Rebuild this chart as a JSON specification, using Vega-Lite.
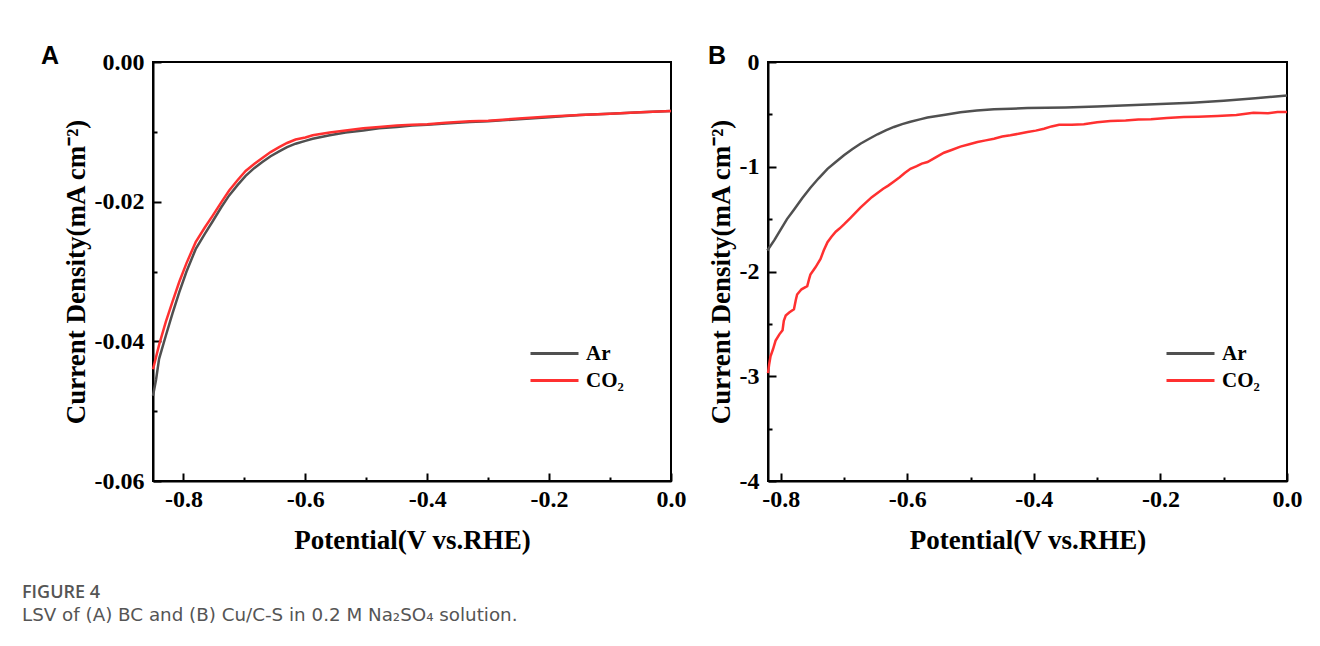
{
  "$schema": "https://vega.github.io/schema/vega-lite/v6.json",
  "background": "white",
  "padding": {"left": 22, "top": 43, "right": 5, "bottom": 5},
  "config": {
    "view": {"stroke": "black", "strokeWidth": 2},
    "axis": {
      "labelFont": "Liberation Serif", "labelFontWeight": "bold", "labelFontSize": 24, "labelColor": "black",
      "titleFont": "Liberation Serif", "titleFontWeight": "bold", "titleFontSize": 27, "titleColor": "black",
      "domainColor": "black", "domainWidth": 2, "tickColor": "black", "tickWidth": 2,
      "grid": false, "labelFlush": false, "labelOverlap": false
    },
    "legend": {
      "labelFont": "Liberation Serif", "labelFontWeight": "bold", "labelFontSize": 21, "labelColor": "black",
      "symbolType": "stroke", "symbolStrokeWidth": 3, "symbolSize": 2304, "rowPadding": 0, "clipHeight": 27, "labelOffset": 6
    },
    "title": {"font": "Liberation Sans", "fontWeight": "bold", "fontSize": 25, "color": "black"}
  },
  "title": {
    "text": "FIGURE 4",
    "subtitle": "LSV of (A) BC and (B) Cu/C-S in 0.2 M Na₂SO₄ solution.",
    "orient": "bottom", "anchor": "start", "frame": "bounds", "offset": 30, "dx": -18,
    "font": "Open Sans", "fontWeight": 600, "fontSize": 18, "color": "#555555",
    "subtitleFont": "DejaVu Sans", "subtitleFontWeight": "normal", "subtitleFontSize": 18.3, "subtitleColor": "#555555", "subtitlePadding": 5
  },
  "datasets": {
    "A": [
      {"gas": "Ar", "V": -0.850, "I": -0.0478}, {"gas": "Ar", "V": -0.845, "I": -0.0455}, {"gas": "Ar", "V": -0.840, "I": -0.0425},
      {"gas": "Ar", "V": -0.829, "I": -0.0392}, {"gas": "Ar", "V": -0.818, "I": -0.0360}, {"gas": "Ar", "V": -0.807, "I": -0.0330},
      {"gas": "Ar", "V": -0.795, "I": -0.0300}, {"gas": "Ar", "V": -0.780, "I": -0.0268}, {"gas": "Ar", "V": -0.765, "I": -0.0246},
      {"gas": "Ar", "V": -0.752, "I": -0.0228}, {"gas": "Ar", "V": -0.738, "I": -0.0208}, {"gas": "Ar", "V": -0.725, "I": -0.0191},
      {"gas": "Ar", "V": -0.711, "I": -0.0176}, {"gas": "Ar", "V": -0.698, "I": -0.0163}, {"gas": "Ar", "V": -0.684, "I": -0.0152},
      {"gas": "Ar", "V": -0.670, "I": -0.0143}, {"gas": "Ar", "V": -0.657, "I": -0.0135}, {"gas": "Ar", "V": -0.643, "I": -0.0128},
      {"gas": "Ar", "V": -0.630, "I": -0.0122}, {"gas": "Ar", "V": -0.616, "I": -0.0117}, {"gas": "Ar", "V": -0.600, "I": -0.0113},
      {"gas": "Ar", "V": -0.588, "I": -0.0110}, {"gas": "Ar", "V": -0.560, "I": -0.0105}, {"gas": "Ar", "V": -0.534, "I": -0.0101},
      {"gas": "Ar", "V": -0.505, "I": -0.0098}, {"gas": "Ar", "V": -0.479, "I": -0.0095}, {"gas": "Ar", "V": -0.450, "I": -0.0093},
      {"gas": "Ar", "V": -0.425, "I": -0.0091}, {"gas": "Ar", "V": -0.400, "I": -0.0090}, {"gas": "Ar", "V": -0.370, "I": -0.0088},
      {"gas": "Ar", "V": -0.330, "I": -0.0086}, {"gas": "Ar", "V": -0.300, "I": -0.0085}, {"gas": "Ar", "V": -0.250, "I": -0.0082},
      {"gas": "Ar", "V": -0.200, "I": -0.0079}, {"gas": "Ar", "V": -0.150, "I": -0.0076}, {"gas": "Ar", "V": -0.100, "I": -0.0074},
      {"gas": "Ar", "V": -0.050, "I": -0.0072}, {"gas": "Ar", "V": 0.000, "I": -0.0070},
      {"gas": "CO₂", "V": -0.850, "I": -0.0440}, {"gas": "CO₂", "V": -0.840, "I": -0.0405}, {"gas": "CO₂", "V": -0.829, "I": -0.0372},
      {"gas": "CO₂", "V": -0.818, "I": -0.0343}, {"gas": "CO₂", "V": -0.807, "I": -0.0315}, {"gas": "CO₂", "V": -0.795, "I": -0.0288},
      {"gas": "CO₂", "V": -0.780, "I": -0.0258}, {"gas": "CO₂", "V": -0.765, "I": -0.0237}, {"gas": "CO₂", "V": -0.752, "I": -0.0220},
      {"gas": "CO₂", "V": -0.738, "I": -0.0201}, {"gas": "CO₂", "V": -0.725, "I": -0.0184}, {"gas": "CO₂", "V": -0.711, "I": -0.0169},
      {"gas": "CO₂", "V": -0.698, "I": -0.0156}, {"gas": "CO₂", "V": -0.684, "I": -0.0146}, {"gas": "CO₂", "V": -0.670, "I": -0.0137},
      {"gas": "CO₂", "V": -0.657, "I": -0.0129}, {"gas": "CO₂", "V": -0.643, "I": -0.0122}, {"gas": "CO₂", "V": -0.630, "I": -0.0116},
      {"gas": "CO₂", "V": -0.616, "I": -0.0111}, {"gas": "CO₂", "V": -0.600, "I": -0.0108}, {"gas": "CO₂", "V": -0.588, "I": -0.0105},
      {"gas": "CO₂", "V": -0.560, "I": -0.0101}, {"gas": "CO₂", "V": -0.534, "I": -0.0098}, {"gas": "CO₂", "V": -0.505, "I": -0.0095},
      {"gas": "CO₂", "V": -0.479, "I": -0.0093}, {"gas": "CO₂", "V": -0.450, "I": -0.0091}, {"gas": "CO₂", "V": -0.425, "I": -0.0090},
      {"gas": "CO₂", "V": -0.400, "I": -0.0089}, {"gas": "CO₂", "V": -0.370, "I": -0.0087}, {"gas": "CO₂", "V": -0.330, "I": -0.0085},
      {"gas": "CO₂", "V": -0.300, "I": -0.0084}, {"gas": "CO₂", "V": -0.250, "I": -0.0081}, {"gas": "CO₂", "V": -0.200, "I": -0.0078},
      {"gas": "CO₂", "V": -0.150, "I": -0.0076}, {"gas": "CO₂", "V": -0.100, "I": -0.0074}, {"gas": "CO₂", "V": -0.050, "I": -0.0072},
      {"gas": "CO₂", "V": 0.000, "I": -0.0070}
    ],
    "B": [
      {"gas": "Ar", "V": -0.821, "I": -1.80}, {"gas": "Ar", "V": -0.810, "I": -1.70}, {"gas": "Ar", "V": -0.800, "I": -1.60},
      {"gas": "Ar", "V": -0.790, "I": -1.50}, {"gas": "Ar", "V": -0.779, "I": -1.41}, {"gas": "Ar", "V": -0.766, "I": -1.30},
      {"gas": "Ar", "V": -0.753, "I": -1.20}, {"gas": "Ar", "V": -0.740, "I": -1.11}, {"gas": "Ar", "V": -0.726, "I": -1.02},
      {"gas": "Ar", "V": -0.713, "I": -0.955}, {"gas": "Ar", "V": -0.700, "I": -0.89}, {"gas": "Ar", "V": -0.687, "I": -0.833},
      {"gas": "Ar", "V": -0.674, "I": -0.78}, {"gas": "Ar", "V": -0.660, "I": -0.733}, {"gas": "Ar", "V": -0.647, "I": -0.69},
      {"gas": "Ar", "V": -0.634, "I": -0.653}, {"gas": "Ar", "V": -0.621, "I": -0.62}, {"gas": "Ar", "V": -0.608, "I": -0.593},
      {"gas": "Ar", "V": -0.595, "I": -0.57}, {"gas": "Ar", "V": -0.580, "I": -0.548}, {"gas": "Ar", "V": -0.568, "I": -0.53},
      {"gas": "Ar", "V": -0.540, "I": -0.503}, {"gas": "Ar", "V": -0.516, "I": -0.48}, {"gas": "Ar", "V": -0.490, "I": -0.463},
      {"gas": "Ar", "V": -0.463, "I": -0.452}, {"gas": "Ar", "V": -0.436, "I": -0.446}, {"gas": "Ar", "V": -0.410, "I": -0.44},
      {"gas": "Ar", "V": -0.380, "I": -0.437}, {"gas": "Ar", "V": -0.350, "I": -0.434}, {"gas": "Ar", "V": -0.300, "I": -0.425},
      {"gas": "Ar", "V": -0.250, "I": -0.413}, {"gas": "Ar", "V": -0.200, "I": -0.402}, {"gas": "Ar", "V": -0.150, "I": -0.388},
      {"gas": "Ar", "V": -0.100, "I": -0.370}, {"gas": "Ar", "V": -0.050, "I": -0.347}, {"gas": "Ar", "V": 0.000, "I": -0.320},
      {"gas": "CO₂", "V": -0.820, "I": -2.97}, {"gas": "CO₂", "V": -0.818, "I": -2.88}, {"gas": "CO₂", "V": -0.816, "I": -2.81},
      {"gas": "CO₂", "V": -0.812, "I": -2.74}, {"gas": "CO₂", "V": -0.808, "I": -2.66}, {"gas": "CO₂", "V": -0.802, "I": -2.60},
      {"gas": "CO₂", "V": -0.797, "I": -2.56}, {"gas": "CO₂", "V": -0.795, "I": -2.47}, {"gas": "CO₂", "V": -0.792, "I": -2.42},
      {"gas": "CO₂", "V": -0.786, "I": -2.39}, {"gas": "CO₂", "V": -0.779, "I": -2.36}, {"gas": "CO₂", "V": -0.776, "I": -2.27},
      {"gas": "CO₂", "V": -0.774, "I": -2.22}, {"gas": "CO₂", "V": -0.767, "I": -2.17}, {"gas": "CO₂", "V": -0.758, "I": -2.14},
      {"gas": "CO₂", "V": -0.755, "I": -2.07}, {"gas": "CO₂", "V": -0.753, "I": -2.03}, {"gas": "CO₂", "V": -0.745, "I": -1.96},
      {"gas": "CO₂", "V": -0.737, "I": -1.88}, {"gas": "CO₂", "V": -0.732, "I": -1.80}, {"gas": "CO₂", "V": -0.726, "I": -1.72},
      {"gas": "CO₂", "V": -0.720, "I": -1.67}, {"gas": "CO₂", "V": -0.713, "I": -1.62}, {"gas": "CO₂", "V": -0.707, "I": -1.59},
      {"gas": "CO₂", "V": -0.700, "I": -1.55}, {"gas": "CO₂", "V": -0.690, "I": -1.49}, {"gas": "CO₂", "V": -0.682, "I": -1.44},
      {"gas": "CO₂", "V": -0.674, "I": -1.39}, {"gas": "CO₂", "V": -0.665, "I": -1.34}, {"gas": "CO₂", "V": -0.656, "I": -1.29},
      {"gas": "CO₂", "V": -0.647, "I": -1.25}, {"gas": "CO₂", "V": -0.638, "I": -1.21}, {"gas": "CO₂", "V": -0.630, "I": -1.18},
      {"gas": "CO₂", "V": -0.621, "I": -1.14}, {"gas": "CO₂", "V": -0.612, "I": -1.10}, {"gas": "CO₂", "V": -0.604, "I": -1.06},
      {"gas": "CO₂", "V": -0.595, "I": -1.02}, {"gas": "CO₂", "V": -0.585, "I": -0.995}, {"gas": "CO₂", "V": -0.577, "I": -0.97},
      {"gas": "CO₂", "V": -0.568, "I": -0.955}, {"gas": "CO₂", "V": -0.555, "I": -0.91}, {"gas": "CO₂", "V": -0.542, "I": -0.866},
      {"gas": "CO₂", "V": -0.530, "I": -0.84}, {"gas": "CO₂", "V": -0.516, "I": -0.808}, {"gas": "CO₂", "V": -0.502, "I": -0.785},
      {"gas": "CO₂", "V": -0.489, "I": -0.764}, {"gas": "CO₂", "V": -0.476, "I": -0.748}, {"gas": "CO₂", "V": -0.463, "I": -0.732},
      {"gas": "CO₂", "V": -0.450, "I": -0.712}, {"gas": "CO₂", "V": -0.437, "I": -0.70}, {"gas": "CO₂", "V": -0.424, "I": -0.685},
      {"gas": "CO₂", "V": -0.410, "I": -0.668}, {"gas": "CO₂", "V": -0.397, "I": -0.655}, {"gas": "CO₂", "V": -0.384, "I": -0.637},
      {"gas": "CO₂", "V": -0.372, "I": -0.615}, {"gas": "CO₂", "V": -0.360, "I": -0.60}, {"gas": "CO₂", "V": -0.340, "I": -0.598},
      {"gas": "CO₂", "V": -0.321, "I": -0.595}, {"gas": "CO₂", "V": -0.300, "I": -0.575}, {"gas": "CO₂", "V": -0.279, "I": -0.563},
      {"gas": "CO₂", "V": -0.255, "I": -0.558}, {"gas": "CO₂", "V": -0.235, "I": -0.55}, {"gas": "CO₂", "V": -0.215, "I": -0.547},
      {"gas": "CO₂", "V": -0.190, "I": -0.535}, {"gas": "CO₂", "V": -0.163, "I": -0.525}, {"gas": "CO₂", "V": -0.140, "I": -0.522},
      {"gas": "CO₂", "V": -0.110, "I": -0.515}, {"gas": "CO₂", "V": -0.080, "I": -0.505}, {"gas": "CO₂", "V": -0.053, "I": -0.484},
      {"gas": "CO₂", "V": -0.030, "I": -0.49}, {"gas": "CO₂", "V": -0.015, "I": -0.478}, {"gas": "CO₂", "V": 0.000, "I": -0.477}
    ]
  },
  "spacing": 19,
  "resolve": {"legend": {"color": "independent"}, "scale": {"x": "independent", "y": "independent"}},
  "hconcat": [
    {
      "width": 518, "height": 419,
      "title": {"text": "A", "anchor": "start", "frame": "group", "dx": -112, "offset": -19},
      "data": {"name": "A"},
      "mark": {"type": "line", "strokeWidth": 2.5},
      "encoding": {
        "x": {
          "field": "V", "type": "quantitative",
          "scale": {"domain": [-0.85, 0], "nice": false, "zero": false},
          "axis": {
            "title": "Potential(V vs.RHE)", "titlePadding": 12,
            "values": [-0.8, -0.7, -0.6, -0.5, -0.4, -0.3, -0.2, -0.1, 0],
            "labelExpr": "round(abs(datum.value)*10) % 2 == 0 ? replace(format(datum.value, '.1f'), '−', '-') : ''",
            "tickSize": {"condition": {"test": "round(abs(datum.value)*10) % 2 == 0", "value": -8}, "value": -4},
            "labelPadding": 14
          }
        },
        "y": {
          "field": "I", "type": "quantitative",
          "scale": {"domain": [-0.06, 0], "nice": false, "zero": false},
          "axis": {
            "title": "Current Density(mA cm⁻²)", "titlePadding": 4,
            "values": [0, -0.01, -0.02, -0.03, -0.04, -0.05, -0.06],
            "labelExpr": "round(abs(datum.value)*100) % 2 == 0 ? replace(format(datum.value, '.2f'), '−', '-') : ''",
            "tickSize": {"condition": {"test": "round(abs(datum.value)*100) % 2 == 0", "value": -8}, "value": -4},
            "labelPadding": 17
          }
        },
        "color": {
          "field": "gas", "type": "nominal",
          "scale": {"domain": ["Ar", "CO₂"], "range": ["#505050", "#ff3030"]},
          "legend": {"title": null, "orient": "none", "legendX": 376, "legendY": 278}
        }
      }
    },
    {
      "width": 519, "height": 419,
      "title": {"text": "B", "anchor": "start", "frame": "group", "dx": -60, "offset": -19},
      "data": {"name": "B"},
      "mark": {"type": "line", "strokeWidth": 2.5},
      "encoding": {
        "x": {
          "field": "V", "type": "quantitative",
          "scale": {"domain": [-0.82, 0], "nice": false, "zero": false},
          "axis": {
            "title": "Potential(V vs.RHE)", "titlePadding": 12,
            "values": [-0.8, -0.7, -0.6, -0.5, -0.4, -0.3, -0.2, -0.1, 0],
            "labelExpr": "round(abs(datum.value)*10) % 2 == 0 ? replace(format(datum.value, '.1f'), '−', '-') : ''",
            "tickSize": {"condition": {"test": "round(abs(datum.value)*10) % 2 == 0", "value": -8}, "value": -4},
            "labelPadding": 14
          }
        },
        "y": {
          "field": "I", "type": "quantitative",
          "scale": {"domain": [-4, 0], "nice": false, "zero": false},
          "axis": {
            "title": "Current Density(mA cm⁻²)", "titlePadding": 4,
            "values": [0, -0.5, -1, -1.5, -2, -2.5, -3, -3.5, -4],
            "labelExpr": "round(abs(datum.value)*2) % 2 == 0 ? replace(format(datum.value, 'd'), '−', '-') : ''",
            "tickSize": {"condition": {"test": "round(abs(datum.value)*2) % 2 == 0", "value": -8}, "value": -4},
            "labelPadding": 17
          }
        },
        "color": {
          "field": "gas", "type": "nominal",
          "scale": {"domain": ["Ar", "CO₂"], "range": ["#505050", "#ff3030"]},
          "legend": {"title": null, "orient": "none", "legendX": 397, "legendY": 278}
        }
      }
    }
  ]
}
